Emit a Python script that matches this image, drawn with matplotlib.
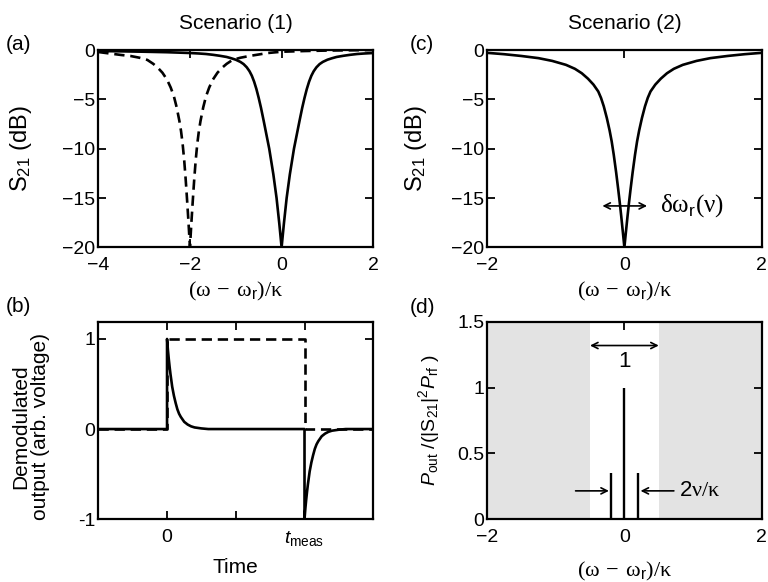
import matplotlib
matplotlib.use("Agg")
import matplotlib.pyplot as plt

plt.rcParams["font.family"] = "Liberation Sans"
plt.rcParams["font.size"] = 14
plt.rcParams["mathtext.fontset"] = "custom"
plt.rcParams["mathtext.rm"] = "Liberation Serif"
plt.rcParams["mathtext.it"] = "Liberation Sans:italic"
plt.rcParams["mathtext.sf"] = "Liberation Sans"
plt.rcParams["mathtext.bf"] = "Liberation Sans:bold"
plt.rcParams["axes.linewidth"] = 1.6

# ── data ──────────────────────────────────────────────────────────────────────

# (a) Scenario 1: transmission (dB) vs detuning, resonance at 0 (solid) and shifted (dashed)
a_x_solid = [-4.0, -3.5, -3.0, -2.5, -2.0, -1.8, -1.65, -1.5, -1.35, -1.2, -1.1, -1.0,
             -0.9, -0.83, -0.76, -0.7, -0.65, -0.6, -0.55, -0.5, -0.45, -0.39, -0.33,
             -0.27, -0.18, -0.11, -0.05, 0.0,
             0.05, 0.11, 0.18, 0.27, 0.33, 0.39, 0.45, 0.5, 0.55, 0.6, 0.65, 0.7, 0.76,
             0.83, 0.9, 1.0, 1.1, 1.2, 1.35, 1.5, 1.65, 1.8, 2.0]
a_y_solid = [-0.1, -0.13, -0.17, -0.22, -0.3, -0.35, -0.4, -0.48, -0.58, -0.7, -0.83, -0.98,
             -1.2, -1.42, -1.75, -2.15, -2.6, -3.2, -3.95, -4.85, -5.85, -7.2, -8.6,
             -10.0, -12.6, -15.0, -17.6, -20.0,
             -17.6, -15.0, -12.6, -10.0, -8.6, -7.2, -5.85, -4.85, -3.95, -3.2, -2.6, -2.15, -1.75,
             -1.42, -1.2, -0.98, -0.83, -0.7, -0.58, -0.48, -0.4, -0.35, -0.3]
a_x_dash = [-4.0, -3.75, -3.5, -3.3, -3.1, -2.93, -2.8, -2.7, -2.6, -2.5, -2.42, -2.35,
            -2.29, -2.23, -2.195, -2.16, -2.125, -2.095, -2.08, -2.06, -2.045, -2.03,
            -2.015, -2.0, -1.985, -1.97, -1.955, -1.94, -1.92, -1.905, -1.875, -1.84,
            -1.805, -1.77, -1.71, -1.65, -1.58, -1.5, -1.4, -1.3, -1.2, -1.07, -0.9,
            -0.7, -0.5, -0.3, 0.0, 0.5, 1.0, 2.0]
a_y_dash = [-0.2, -0.35, -0.5, -0.6, -0.78, -1.0, -1.4, -1.8, -2.3, -3.0, -3.8, -4.7,
            -5.8, -7.2, -8.2, -9.5, -11.2, -13.0, -14.0, -15.4, -16.5, -17.6,
            -18.8, -20.0, -18.8, -17.6, -16.5, -15.4, -14.0, -13.0, -11.2, -9.5,
            -8.2, -7.2, -5.8, -4.7, -3.8, -3.0, -2.3, -1.8, -1.4, -1.0, -0.78,
            -0.6, -0.45, -0.3, -0.17, -0.1, -0.05, 0.0]

# (b) demodulated output vs time (t_meas = 2)
b_t_solid = [-1.0, 0.0, 0.0, 0.0125, 0.025, 0.0375, 0.05, 0.0625, 0.075, 0.0875, 0.1, 0.125,
             0.15, 0.175, 0.2, 0.25, 0.3, 0.35, 0.4, 0.5, 0.6,
             2.0, 2.0, 2.0125, 2.025, 2.0375, 2.05, 2.0625, 2.075, 2.0875, 2.1, 2.125,
             2.15, 2.175, 2.2, 2.25, 2.3, 2.35, 2.4, 2.5, 2.6, 3.0]
b_v_solid = [0.0, 0.0, 1.0, 0.88, 0.78, 0.69, 0.61, 0.54, 0.47, 0.42, 0.37, 0.29,
             0.22, 0.17, 0.135, 0.08, 0.05, 0.03, 0.018, 0.007, 0.0,
             0.0, -1.0, -0.88, -0.78, -0.69, -0.61, -0.54, -0.47, -0.42, -0.37, -0.29,
             -0.22, -0.17, -0.135, -0.08, -0.05, -0.03, -0.018, -0.007, 0.0, 0.0]
b_t_dash = [-1.0, 0.0, 0.0, 2.0, 2.0, 3.0]
b_v_dash = [0.0, 0.0, 1.0, 1.0, 0.0, 0.0]
b_ticks = [0, 1, 2]
b_ticklabels = ["0", "", r"$t_{\mathsf{meas}}$"]

# (c) Scenario 2: transmission (dB) vs detuning
c_x = [-2.0, -1.75, -1.5, -1.25, -1.05, -0.85, -0.72, -0.62, -0.53, -0.45, -0.38, -0.34,
       -0.30, -0.255, -0.215, -0.185, -0.155, -0.12, -0.09, -0.065, -0.045, -0.02, 0.0,
       0.02, 0.045, 0.065, 0.09, 0.12, 0.155, 0.185, 0.215, 0.255, 0.30, 0.34, 0.38,
       0.45, 0.53, 0.62, 0.72, 0.85, 1.05, 1.25, 1.5, 1.75, 2.0]
c_y = [-0.28, -0.42, -0.6, -0.82, -1.1, -1.5, -1.9, -2.35, -2.9, -3.5, -4.2, -4.85,
       -5.7, -6.9, -8.15, -9.25, -10.6, -12.4, -14.1, -15.6, -16.9, -18.6, -20.0,
       -18.6, -16.9, -15.6, -14.1, -12.4, -10.6, -9.25, -8.15, -6.9, -5.7, -4.85, -4.2,
       -3.5, -2.9, -2.35, -1.9, -1.5, -1.1, -0.82, -0.6, -0.42, -0.28]

# (d) output spectrum: carrier and sidebands
d_freq = [-0.2, 0.0, 0.2]
d_power = [0.35, 1.0, 0.35]
d_band = [-0.5, 0.5]
d_yticks = [0, 0.5, 1, 1.5]
d_yticklabels = ["0", "0.5", "1", "1.5"]

detune_label = r"$\mathrm{(\omega\,-\,\omega}_{\mathsf{r}}\mathrm{)/\kappa}$"
s21_label = r"$\mathsf{S}_{\mathsf{21}}$ (dB)"
arrow_kw = dict(color="k", lw=1.2, shrinkA=0, shrinkB=0, mutation_scale=11)
LW = 1.9
DASH = (3.9, 2.2)

fig = plt.figure(figsize=(7.68, 5.82), dpi=100)
W = 0.358
H = 0.339
ax_a = fig.add_axes([0.128, 0.575, W, H])
ax_b = fig.add_axes([0.128, 0.108, W, H])
ax_c = fig.add_axes([0.634, 0.575, W, H])
ax_d = fig.add_axes([0.634, 0.108, W, H])

# ── (a) ───────────────────────────────────────────────────────────────────────
ax_a.plot(a_x_dash, a_y_dash, color="k", lw=LW, dashes=DASH)
ax_a.plot(a_x_solid, a_y_solid, color="k", lw=LW)
ax_a.set_xlim(-4, 2)
ax_a.set_ylim(-20, 0)
ax_a.set_xticks([-4, -2, 0, 2])
ax_a.set_yticks([-20, -15, -10, -5, 0])
ax_a.set_xlabel(detune_label, fontsize=16, labelpad=4)
ax_a.set_ylabel(s21_label, fontsize=17)
ax_a.yaxis.set_label_coords(-0.235, 0.5)
ax_a.set_title("Scenario (1)", fontsize=15, pad=15)

# ── (b) ───────────────────────────────────────────────────────────────────────
ax_b.plot(b_t_dash, b_v_dash, color="k", lw=LW, dashes=DASH)
ax_b.plot(b_t_solid, b_v_solid, color="k", lw=LW)
ax_b.set_xlim(-1, 3)
ax_b.set_ylim(-1, 1.19)
ax_b.set_xticks(b_ticks)
ax_b.set_xticklabels(b_ticklabels)
ax_b.set_yticks([-1, 0, 1])
ax_b.set_yticklabels(["-1", "0", "1"])
ax_b.set_xlabel("Time", fontsize=15, labelpad=7)
ax_b.set_ylabel("Demodulated\noutput (arb. voltage)", fontsize=15, linespacing=1.05)
ax_b.yaxis.set_label_coords(-0.175, 0.47)

# ── (c) ───────────────────────────────────────────────────────────────────────
ax_c.plot(c_x, c_y, color="k", lw=LW)
ax_c.set_xlim(-2, 2)
ax_c.set_ylim(-20, 0)
ax_c.set_xticks([-2, 0, 2])
ax_c.set_yticks([-20, -15, -10, -5, 0])
ax_c.set_xlabel(detune_label, fontsize=16, labelpad=4)
ax_c.set_ylabel(s21_label, fontsize=17)
ax_c.yaxis.set_label_coords(-0.21, 0.5)
ax_c.set_title("Scenario (2)", fontsize=15, pad=15)
ax_c.annotate("", xy=(-0.32, -15.8), xytext=(0.33, -15.8),
              arrowprops=dict(arrowstyle="<->", **arrow_kw))
ax_c.text(0.52, -15.8, r"$\mathrm{\delta\omega}_{\mathsf{r}}\mathrm{(\nu)}$",
          fontsize=18, va="center", ha="left")

# ── (d) ───────────────────────────────────────────────────────────────────────
ax_d.axvspan(-2, d_band[0], color="#e3e3e3", lw=0, zorder=0)
ax_d.axvspan(d_band[1], 2, color="#e3e3e3", lw=0, zorder=0)
ax_d.vlines(d_freq, 0, d_power, color="k", lw=1.7)
ax_d.set_xlim(-2, 2)
ax_d.set_ylim(0, 1.5)
ax_d.set_xticks([-2, 0, 2])
ax_d.set_yticks(d_yticks)
ax_d.set_yticklabels(d_yticklabels)
ax_d.set_xlabel(detune_label, fontsize=16, labelpad=10)
ax_d.set_ylabel(r"$P_{\mathsf{out}}$ /(|$\mathsf{S}_{\mathsf{21}}$|$^{\mathsf{2}}$$P_{\mathsf{rf}}$ )",
                fontsize=14)
ax_d.yaxis.set_label_coords(-0.165, 0.5)
ax_d.annotate("", xy=(d_band[0], 1.32), xytext=(d_band[1], 1.32),
              arrowprops=dict(arrowstyle="<->", **arrow_kw))
ax_d.text(0, 1.2, "1", fontsize=16, ha="center", va="center")
ax_d.annotate("", xy=(-0.225, 0.215), xytext=(-0.71, 0.215),
              arrowprops=dict(arrowstyle="->", **arrow_kw))
ax_d.annotate("", xy=(0.235, 0.215), xytext=(0.72, 0.215),
              arrowprops=dict(arrowstyle="->", **arrow_kw))
ax_d.text(0.8, 0.215, r"2$\mathrm{\nu/\kappa}$", fontsize=16, ha="left", va="center")

for ax in (ax_a, ax_b, ax_c, ax_d):
    ax.tick_params(axis="both", which="major", direction="in", length=5.5, width=1.3,
                   top=True, right=True, labelsize=14)
    ax.tick_params(axis="x", pad=7)
    ax.tick_params(axis="y", pad=2)

# panel letters
fig.text(0.008, 0.923, "(a)", fontsize=15, va="center")
fig.text(0.008, 0.474, "(b)", fontsize=15, va="center")
fig.text(0.533, 0.923, "(c)", fontsize=15, va="center")
fig.text(0.533, 0.472, "(d)", fontsize=15, va="center")

fig.savefig("out.png", dpi=100)
